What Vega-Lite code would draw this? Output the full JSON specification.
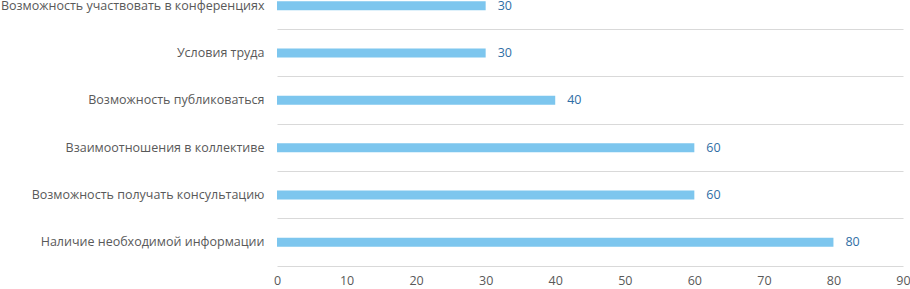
{
  "$schema": "https://vega.github.io/schema/vega-lite/v6.json",
  "width": 626,
  "height": 284,
  "autosize": {"type": "none"},
  "padding": {"left": 277, "right": 7, "top": -18, "bottom": 23},
  "background": "white",
  "data": {"values": [
    {"cat": "Возможность участвовать в конференциях", "v": 30},
    {"cat": "Условия труда", "v": 30},
    {"cat": "Возможность публиковаться", "v": 40},
    {"cat": "Взаимоотношения в коллективе ", "v": 60},
    {"cat": "Возможность получать консультацию", "v": 60},
    {"cat": "Наличие необходимой информации", "v": 80}
  ]},
  "config": {
    "view": {"stroke": null},
    "font": "Open Sans"
  },
  "encoding": {
    "y": {
      "field": "cat", "type": "nominal", "sort": null, "title": null,
      "scale": {"paddingInner": 0, "paddingOuter": 0},
      "axis": {"grid": true, "bandPosition": 0, "gridColor": "#d9d9d9", "gridWidth": 1,
               "ticks": false, "domain": false, "labelPadding": 13, "labelFontSize": 12.5,
               "labelColor": "#595959", "labelFont": "Open Sans", "labelLimit": 300}
    },
    "x": {
      "field": "v", "type": "quantitative", "title": null,
      "scale": {"domain": [0, 90], "nice": false},
      "axis": {"values": [0,10,20,30,40,50,60,70,80,90], "grid": false, "ticks": false,
               "domain": true, "domainColor": "#d9d9d9", "labelPadding": 8, "labelFontSize": 12.5,
               "labelColor": "#595959", "labelFont": "Open Sans", "labelFlush": false}
    }
  },
  "layer": [
    {"mark": {"type": "bar", "size": 9, "color": "#7DC6EE"}},
    {"mark": {"type": "text", "align": "left", "dx": 12, "fontSize": 12.5, "color": "#2F6EA5", "font": "Open Sans"},
     "encoding": {"text": {"field": "v", "type": "quantitative"}}}
  ]
}
